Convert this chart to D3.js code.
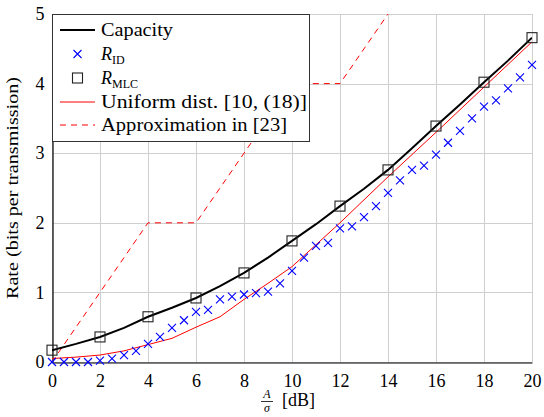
<!DOCTYPE html>
<html>
<head>
<meta charset="utf-8">
<script src="https://cdn.jsdelivr.net/npm/d3@7"></script>
<style>
  body { margin: 0; background: #fff; }
</style>
</head>
<body>
<div id="chart"></div>
<script>
// data
var capX   = [0, 1, 2, 3, 4, 5, 6, 7, 8, 9, 10, 11, 12, 13, 14, 15, 16, 17, 18, 19, 20];
var capY   = [0.17, 0.26, 0.36, 0.49, 0.65, 0.78, 0.92, 1.09, 1.28, 1.50, 1.74, 1.98, 2.24, 2.49, 2.76, 3.07, 3.39, 3.70, 4.02, 4.33, 4.66];

var mlcX   = [0, 2, 4, 6, 8, 10, 12, 14, 16, 18, 20];
var mlcY   = [0.17, 0.36, 0.65, 0.92, 1.28, 1.74, 2.24, 2.76, 3.39, 4.02, 4.66];

var idX    = [0, 0.5, 1, 1.5, 2, 2.5, 3, 3.5, 4, 4.5, 5, 5.5, 6, 6.5, 7, 7.5, 8, 8.5, 9, 9.5, 10,
              10.5, 11, 11.5, 12, 12.5, 13, 13.5, 14, 14.5, 15, 15.5, 16, 16.5, 17, 17.5, 18, 18.5, 19, 19.5, 20];
var idY    = [0, 0, 0, 0, 0.02, 0.05, 0.1, 0.16, 0.26, 0.36, 0.49, 0.6, 0.72, 0.75, 0.9, 0.94, 0.97, 0.99, 1.01, 1.13, 1.31,
              1.5, 1.67, 1.71, 1.92, 1.95, 2.08, 2.24, 2.43, 2.61, 2.76, 2.82, 2.98, 3.15, 3.32, 3.5, 3.67, 3.76, 3.93, 4.09, 4.27];

var unifX  = [0, 1, 2, 3, 4, 5, 6, 7, 8, 9, 10, 12, 14, 16, 18, 20];
var unifY  = [0.05, 0.07, 0.1, 0.16, 0.25, 0.34, 0.5, 0.65, 0.9, 1.13, 1.37, 2.0, 2.66, 3.3, 3.95, 4.6];

var apprX  = [0, 4, 6, 10, 12, 14];
var apprY  = [0, 2, 2, 4, 4, 5];

var xTicks = [0, 2, 4, 6, 8, 10, 12, 14, 16, 18, 20];
var yTicks = [0, 1, 2, 3, 4, 5];

var FONT = "'Liberation Serif', 'Times New Roman', Times, 'DejaVu Serif', serif";

var W = 544, H = 417;
var margin = {top: 14, right: 12, bottom: 55, left: 52};

var svg = d3.select("#chart").append("svg")
   .attr("width", W)
   .attr("height", H)
   .style("font-family", FONT);

var x = d3.scaleLinear().domain([0, 20]).range([margin.left, W - margin.right]);
var y = d3.scaleLinear().domain([0, 5]).range([H - margin.bottom, margin.top]);

function pts(xs, ys) {
   return xs.map(function(v, i) { return [v, ys[i]]; });
}

svg.append("defs").append("clipPath").attr("id", "plotclip")
   .append("rect")
   .attr("x", x(0)).attr("y", y(5))
   .attr("width", x(20) - x(0)).attr("height", y(0) - y(5));

// grid
var grid = svg.append("g").attr("stroke", "#cfcfcf").attr("stroke-width", 1);
xTicks.forEach(function(t) {
   grid.append("line")
      .attr("x1", Math.round(x(t)) + 0.5).attr("x2", Math.round(x(t)) + 0.5)
      .attr("y1", y(0)).attr("y2", y(5));
});
yTicks.forEach(function(t) {
   grid.append("line")
      .attr("x1", x(0)).attr("x2", x(20))
      .attr("y1", Math.round(y(t)) + 0.5).attr("y2", Math.round(y(t)) + 0.5);
});

// axes (left + bottom black)
var xAxis = svg.append("g")
   .attr("transform", "translate(0," + (Math.round(y(0)) + 0.5) + ")")
   .call(d3.axisBottom(x).tickValues(xTicks).tickFormat(d3.format("d")).tickSize(0).tickPadding(12));
var yAxis = svg.append("g")
   .attr("transform", "translate(" + (Math.round(x(0)) + 0.5) + ",0)")
   .call(d3.axisLeft(y).tickValues(yTicks).tickFormat(d3.format("d")).tickSize(0).tickPadding(8));
[xAxis, yAxis].forEach(function(a) {
   a.attr("font-family", null).attr("font-size", null);
   a.select(".domain").attr("stroke", "#000").attr("stroke-width", 1.2);
   a.selectAll("text").style("font-family", FONT).attr("font-size", 18).attr("fill", "#000");
});
xAxis.selectAll("text").attr("dy", "0.72em");

var plot = svg.append("g").attr("clip-path", "url(#plotclip)");
var line = d3.line().x(function(d) { return x(d[0]); }).y(function(d) { return y(d[1]); });

// approximation in [23]
plot.append("path")
   .attr("d", line(pts(apprX, apprY)))
   .attr("fill", "none").attr("stroke", "#ff0000").attr("stroke-width", 1)
   .attr("stroke-dasharray", "6,5");

// uniform
plot.append("path")
   .attr("d", line(pts(unifX, unifY)))
   .attr("fill", "none").attr("stroke", "#ff0000").attr("stroke-width", 1);

// capacity
plot.append("path")
   .attr("d", line(pts(capX, capY)))
   .attr("fill", "none").attr("stroke", "#000").attr("stroke-width", 2);

// R_ID crosses
var cr = 4;
svg.append("g").selectAll("path.cross")
   .data(pts(idX, idY))
   .enter().append("path")
   .attr("class", "cross")
   .attr("d", function(d) {
      var cx = x(d[0]), cy = y(d[1]);
      return "M" + (cx - cr) + "," + (cy - cr) + "L" + (cx + cr) + "," + (cy + cr) +
             "M" + (cx - cr) + "," + (cy + cr) + "L" + (cx + cr) + "," + (cy - cr);
   })
   .attr("stroke", "#0000ff").attr("stroke-width", 1.1).attr("fill", "none");

// R_MLC squares
var sq = 10;
svg.append("g").selectAll("rect.sq")
   .data(pts(mlcX, mlcY))
   .enter().append("rect")
   .attr("class", "sq")
   .attr("x", function(d) { return x(d[0]) - sq / 2; })
   .attr("y", function(d) { return y(d[1]) - sq / 2; })
   .attr("width", sq).attr("height", sq)
   .attr("fill", "none").attr("stroke", "#222").attr("stroke-width", 1.1);

// legend
var lg = svg.append("g");
lg.append("rect")
   .attr("x", 52.5).attr("y", 14.5).attr("width", 257).attr("height", 127)
   .attr("fill", "#fff").attr("stroke", "#333").attr("stroke-width", 1);

var rows = [30, 54, 78, 102, 125];
var tx = 101;
lg.append("line").attr("x1", 60).attr("x2", 95).attr("y1", rows[0]).attr("y2", rows[0])
   .attr("stroke", "#000").attr("stroke-width", 2);
lg.append("path")
   .attr("d", "M" + (77.5 - cr) + "," + (rows[1] - cr) + "L" + (77.5 + cr) + "," + (rows[1] + cr) +
              "M" + (77.5 - cr) + "," + (rows[1] + cr) + "L" + (77.5 + cr) + "," + (rows[1] - cr))
   .attr("stroke", "#0000ff").attr("stroke-width", 1.1);
lg.append("rect").attr("x", 77.5 - sq / 2).attr("y", rows[2] - sq / 2).attr("width", sq).attr("height", sq)
   .attr("fill", "none").attr("stroke", "#222").attr("stroke-width", 1.1);
lg.append("line").attr("x1", 60).attr("x2", 95).attr("y1", rows[3]).attr("y2", rows[3])
   .attr("stroke", "#ff0000").attr("stroke-width", 1);
lg.append("line").attr("x1", 60).attr("x2", 95).attr("y1", rows[4]).attr("y2", rows[4])
   .attr("stroke", "#ff0000").attr("stroke-width", 1).attr("stroke-dasharray", "6,5");

function legText(yy, str, len) {
   return lg.append("text").attr("x", tx).attr("y", yy + 6)
      .attr("font-size", 18).text(str)
      .attr("textLength", len).attr("lengthAdjust", "spacingAndGlyphs");
}
legText(rows[0], "Capacity", 72);
var t1 = lg.append("text").attr("x", tx).attr("y", rows[1] + 6).attr("font-size", 18);
t1.append("tspan").attr("font-style", "italic").text("R");
t1.append("tspan").attr("font-size", 12).attr("dy", 4).text("ID");
var t2 = lg.append("text").attr("x", tx).attr("y", rows[2] + 6).attr("font-size", 18);
t2.append("tspan").attr("font-style", "italic").text("R");
t2.append("tspan").attr("font-size", 12).attr("dy", 4).text("MLC");
legText(rows[3], "Uniform dist. [10, (18)]", 206);
legText(rows[4], "Approximation in [23]", 186);

// y label
svg.append("text")
   .attr("transform", "translate(18," + ((y(0) + y(5)) / 2) + ") rotate(-90)")
   .attr("text-anchor", "middle").attr("font-size", 17)
   .attr("textLength", 222).attr("lengthAdjust", "spacingAndGlyphs")
   .text("Rate (bits per transmission)");

// x label: A/sigma [dB]
var fx = 267;
svg.append("text").attr("x", fx).attr("y", 398).attr("text-anchor", "middle")
   .attr("font-size", 12).attr("font-style", "italic").text("A");
svg.append("line").attr("x1", fx - 6).attr("x2", fx + 6).attr("y1", 401.5).attr("y2", 401.5)
   .attr("stroke", "#000").attr("stroke-width", 0.8);
svg.append("text").attr("x", fx).attr("y", 412).attr("text-anchor", "middle")
   .attr("font-size", 12).attr("font-style", "italic").text("σ");
svg.append("text").attr("x", 282).attr("y", 406).attr("font-size", 18).text("[dB]");
</script>
</body>
</html>
